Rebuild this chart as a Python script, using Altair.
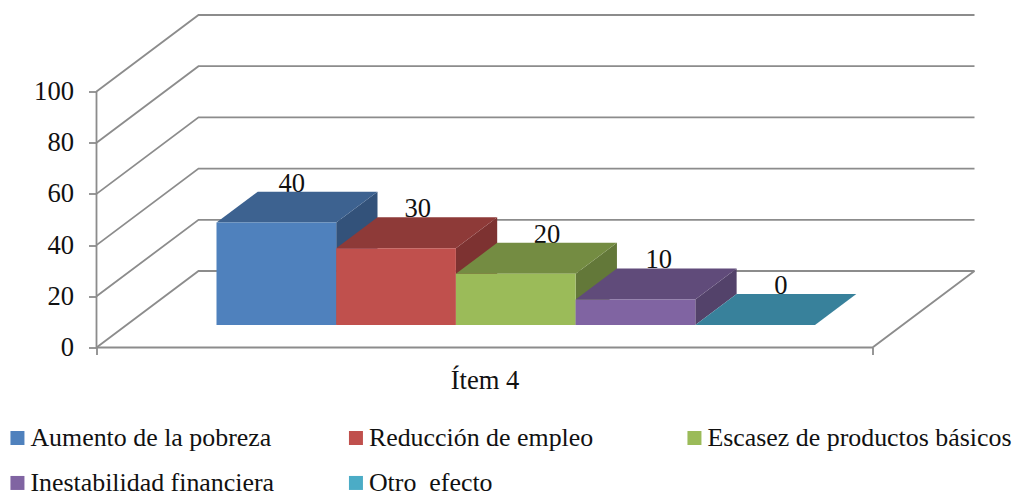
import altair as alt
import pandas as pd

categories = ["Aumento de la pobreza", "Reducción de empleo", "Escasez de productos básicos",
              "Inestabilidad financiera", "Otro\u00a0 efecto"]
values = [40, 30, 20, 10, 0]
front_colors = ["#4F81BD", "#C0504D", "#9BBB59", "#8064A2", "#4BACC6"]
top_colors = ["#3D6290", "#8E3A38", "#748C42", "#604B7A", "#38819B"]
side_colors = ["#33527A", "#7D3231", "#637839", "#53426A", "#2F6E84"]
tick_values = [0, 20, 40, 60, 80, 100]
axis_title = "Ítem 4"

# layout of the oblique projection
PX_PER_BAR = 119.7
PX_PER_VAL = 2.56
PLOT_W, PLOT_H = 879.5, 333
WALL_DX = 102 / PX_PER_BAR
WALL_DY = 76.5 / PX_PER_VAL
FLOOR_W = 776 / PX_PER_BAR
BAR_U0 = 0.752
BAR_D0 = 0.294
BAR_DEPTH = 0.405
label_nudge = [-0.217, -0.164, -0.084, -0.15, -0.13]
FONT = "Liberation Serif"
FS = 26.6
LEGEND_FS = 25.9
INK = "#111111"
GRID = "#8C8C8C"


def proj(u, d, v):
    return u + d * WALL_DX, v + d * WALL_DY


lines = []
for t in tick_values:
    for o, (u, d) in enumerate([(0, 0), (0, 1), (FLOOR_W, 1)]):
        x, y = proj(u, d, t)
        lines.append({"g": f"g{t}", "o": o, "x": x, "y": y})
for o, (u, d, v) in enumerate([(0, 0, 100), (0, 0, 0), (FLOOR_W, 0, 0), (FLOOR_W, 1, 0)]):
    x, y = proj(u, d, v)
    lines.append({"g": "frame", "o": o, "x": x, "y": y})

fronts, sides, tops, labels = [], [], [], []
for i, (c, v) in enumerate(zip(categories, values)):
    u0, u1 = BAR_U0 + i, BAR_U0 + i + 1
    d0, d1 = BAR_D0, BAR_D0 + BAR_DEPTH
    xa, ya = proj(u0, d0, 0)
    xb, yb = proj(u1, d0, v)
    fronts.append({"c": c, "x": xa, "x2": xb, "y": ya, "y2": yb})
    if v > 0:
        for d in (d0, d1):
            x, y = proj(u1, d, 0)
            sides.append({"g": c, "f": side_colors[i], "x": x, "y": y, "y2": y + v})
    for d in (d0, d1):
        x, y = proj(u0, d, v)
        x2, _ = proj(u1, d, v)
        tops.append({"g": c, "f": top_colors[i], "x": x, "x2": x2, "y": y})
    lx, ly = proj((u0 + u1) / 2 + label_nudge[i], d1, v)
    labels.append({"x": lx, "y": ly, "t": str(v)})

xs = alt.Scale(domain=[0, PLOT_W / PX_PER_BAR], range=[0, PLOT_W], nice=False, zero=False)
ys = alt.Scale(domain=[0, PLOT_H / PX_PER_VAL], range=[PLOT_H, 0], nice=False, zero=False)
X = alt.X("x:Q", scale=xs, axis=alt.Axis(
    values=[0, FLOOR_W], labels=False, domain=False, grid=False, tickSize=7, tickColor=GRID, tickWidth=1.8,
    title=axis_title, titleFont=FONT, titleFontSize=FS, titleFontWeight="normal", titleColor=INK,
    titleX=388, titleY=41, titleBaseline="alphabetic", titleAlign="center"))
Y = alt.Y("y:Q", scale=ys, axis=alt.Axis(
    values=tick_values, domain=False, grid=False, tickSize=8, tickColor=GRID, tickWidth=1.8,
    labelFont=FONT, labelFontSize=FS, labelColor=INK, labelPadding=15, title=None))

grid = alt.Chart(pd.DataFrame(lines)).mark_line(stroke=GRID, strokeWidth=1.8).encode(
    x=X, y=Y, detail="g:N", order="o:Q")
side = alt.Chart(pd.DataFrame(sides)).mark_area(orient="vertical").encode(
    x=X, y=Y, y2="y2:Q", fill=alt.Fill("f:N", scale=None), detail="g:N")
top = alt.Chart(pd.DataFrame(tops)).mark_area(orient="horizontal").encode(
    y=Y, x=X, x2="x2:Q", fill=alt.Fill("f:N", scale=None), detail="g:N")
front = alt.Chart(pd.DataFrame(fronts)).mark_rect().encode(
    x=X, x2="x2:Q", y=Y, y2="y2:Q",
    color=alt.Color("c:N", scale=alt.Scale(domain=categories, range=front_colors), sort=categories,
                    legend=alt.Legend(
                        title=None, orient="none", legendX=-94, legendY=410.5, columns=3, gridAlign="all",
                        direction="horizontal",
                        symbolType="square", symbolSize=196, symbolStrokeWidth=0, symbolOffset=2, labelOffset=0,
                        labelFont=FONT, labelFontSize=LEGEND_FS, labelColor=INK, labelLimit=400,
                        columnPadding=5.5, rowPadding=18, padding=0, symbolOpacity=1)))
text = alt.Chart(pd.DataFrame(labels)).mark_text(
    font=FONT, fontSize=FS, color=INK, baseline="alphabetic", align="center").encode(
    x=X, y=Y, text="t:N")

chart = alt.layer(grid, text, side, top, front).properties(
    width=PLOT_W, height=PLOT_H,
    autosize=alt.AutoSizeParams(type="none"),
    padding={"left": 88.5, "top": 6.5, "right": 40, "bottom": 145},
).configure_view(stroke=None)

chart.save("out.html", embed_options={"renderer": "svg", "actions": False})
